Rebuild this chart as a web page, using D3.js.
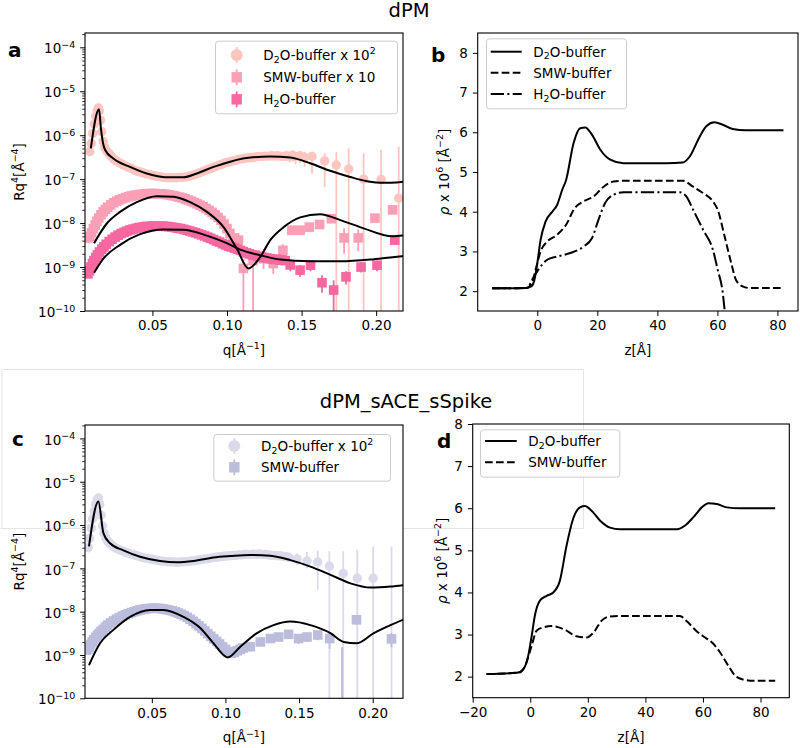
<!DOCTYPE html>
<html><head><meta charset="utf-8">
<script src="https://cdn.jsdelivr.net/npm/d3@7"></script>
<style>
body{margin:0;background:#fff}
svg{display:block}
text{font-family:"DejaVu Sans",sans-serif;fill:#000}
</style>
</head><body>
<svg id="chart" width="800" height="748"></svg>
<script>
// ---------------- DATA ----------------
// Panel a (dPM) reflectivity data: [q, R q^4] or [q, Rq^4, low, high]
const aD2O = [[0.0080,4.2e-7],[0.0090,6.5e-7],[0.0100,1.1e-6],[0.0110,1.8e-6],[0.0120,2.7e-6],[0.0130,3.6e-6],[0.0138,4.2e-6],[0.0145,3.6e-6],[0.0152,2.2e-6],[0.0160,1.2e-6],[0.0170,7.2e-7],[0.0180,5.2e-7],[0.0195,4.3e-7],[0.021,3.8e-7],[0.0225,3.3e-7],[0.024,2.9e-7],[0.026,2.6e-7],[0.028,2.35e-7],[0.030,2.15e-7],[0.032,2.0e-7],[0.034,1.85e-7],[0.036,1.75e-7],[0.038,1.6e-7],[0.040,1.5e-7],[0.042,1.45e-7],[0.044,1.38e-7],[0.046,1.32e-7],[0.048,1.28e-7],[0.050,1.22e-7],[0.052,1.18e-7],[0.054,1.15e-7],[0.056,1.12e-7],[0.058,1.1e-7],[0.060,1.08e-7],[0.062,1.08e-7],[0.064,1.07e-7],[0.066,1.08e-7],[0.068,1.1e-7],[0.070,1.1e-7],[0.072,1.12e-7],[0.074,1.15e-7],[0.076,1.2e-7],[0.078,1.26e-7],[0.080,1.33e-7],[0.082,1.42e-7],[0.084,1.5e-7],[0.086,1.6e-7],[0.088,1.7e-7],[0.090,1.8e-7],[0.092,1.92e-7],[0.094,2.05e-7],[0.096,2.15e-7],[0.098,2.3e-7],[0.100,2.4e-7],[0.102,2.5e-7],[0.104,2.6e-7],[0.106,2.7e-7],[0.108,2.85e-7],[0.110,2.9e-7],[0.112,3.0e-7],[0.114,3.05e-7],[0.116,3.1e-7],[0.118,3.15e-7],[0.120,3.25e-7],[0.122,3.3e-7],[0.124,3.3e-7],[0.126,3.35e-7],[0.128,3.35e-7],[0.130,3.4e-7,2.9e-7,3.9e-7],[0.132,3.35e-7,2.8e-7,3.9e-7],[0.134,3.4e-7,2.8e-7,4.0e-7],[0.136,3.35e-7,2.7e-7,4.0e-7],[0.138,3.3e-7,2.6e-7,4.0e-7],[0.140,3.4e-7,2.6e-7,4.1e-7],[0.142,3.3e-7,2.4e-7,4.1e-7],[0.144,3.5e-7,2.5e-7,4.3e-7],[0.146,3.25e-7,2.2e-7,4.2e-7],[0.149,3.4e-7,2.3e-7,4.4e-7],[0.152,3.1e-7,1.9e-7,4.2e-7],[0.157,3.3e-7,1.35e-7,4.2e-7],[0.1655,2.6e-7,6.6e-8,3.9e-7],[0.1733,2.1e-7,1e-12,4.2e-7],[0.1816,1.7e-7,1e-12,5.0e-7],[0.1916,1.0e-7,1e-12,3.9e-7],[0.2033,9.8e-8,1e-12,4.6e-7],[0.2151,3.7e-8,1e-12,5.5e-7]];
const aSMW = [[0.0068,4.6e-9],[0.0080,5.0e-9],[0.0092,6.0e-9],[0.0104,7.5e-9],[0.0116,9.0e-9],[0.0128,1.1e-8],[0.014,1.3e-8],[0.0155,1.55e-8],[0.017,1.8e-8],[0.0185,2.05e-8],[0.020,2.3e-8],[0.022,2.6e-8],[0.024,2.9e-8],[0.026,3.15e-8],[0.028,3.4e-8],[0.030,3.6e-8],[0.032,3.8e-8],[0.034,4.0e-8],[0.036,4.15e-8],[0.038,4.3e-8],[0.040,4.4e-8],[0.042,4.5e-8],[0.044,4.6e-8],[0.046,4.65e-8],[0.048,4.7e-8],[0.050,4.7e-8],[0.052,4.7e-8],[0.054,4.65e-8],[0.056,4.6e-8],[0.058,4.55e-8],[0.060,4.45e-8],[0.062,4.35e-8],[0.064,4.2e-8],[0.066,4.05e-8],[0.068,3.9e-8],[0.070,3.75e-8],[0.072,3.55e-8],[0.074,3.35e-8],[0.076,3.15e-8],[0.078,2.95e-8],[0.080,2.75e-8],[0.082,2.55e-8],[0.084,2.35e-8],[0.086,2.15e-8],[0.088,1.95e-8],[0.090,1.75e-8],[0.092,1.55e-8],[0.094,1.35e-8],[0.096,1.15e-8],[0.098,9.5e-9],[0.100,7.5e-9],[0.102,5.8e-9],[0.104,4.6e-9],[0.1063,3.6e-9],[0.1077,4.1e-9,2.8e-9,6.0e-9],[0.111,9.3e-10,1e-12,1.5e-9],[0.1175,1.4e-9,1e-12,2.2e-9],[0.1245,1.55e-9,9e-10,2.6e-9],[0.131,1.2e-9,7e-10,2.0e-9],[0.1375,2.4e-9,1.5e-9,3.3e-9],[0.1435,6.9e-9,5.5e-9,8.5e-9],[0.149,6.9e-9,5.5e-9,8.5e-9],[0.1552,8.1e-9,6.8e-9,9.6e-9],[0.1621,9.3e-9,8e-9,1.1e-8],[0.170,1.26e-8,1.05e-8,1.5e-8],[0.1785,4.6e-9,2.0e-9,7.6e-9],[0.188,4.6e-9,2.3e-9,7.2e-9],[0.1992,1.3e-8,1.1e-8,1.6e-8],[0.211,2.0e-8,1.7e-8,2.4e-8]];
const aH2O = [[0.0068,7.0e-10],[0.0078,8.2e-10],[0.0088,1.0e-9],[0.0098,1.2e-9],[0.0108,1.4e-9],[0.012,1.65e-9],[0.0132,1.9e-9],[0.0145,2.2e-9],[0.016,2.55e-9],[0.0175,2.9e-9],[0.019,3.3e-9],[0.021,3.8e-9],[0.023,4.3e-9],[0.025,4.8e-9],[0.027,5.3e-9],[0.029,5.8e-9],[0.031,6.2e-9],[0.033,6.6e-9],[0.035,7.0e-9],[0.037,7.3e-9],[0.039,7.6e-9],[0.041,7.9e-9],[0.043,8.1e-9],[0.045,8.3e-9],[0.047,8.4e-9],[0.049,8.5e-9],[0.051,8.6e-9],[0.053,8.6e-9],[0.055,8.6e-9],[0.057,8.5e-9],[0.059,8.4e-9],[0.061,8.3e-9],[0.063,8.1e-9],[0.065,7.9e-9],[0.067,7.7e-9],[0.069,7.5e-9],[0.071,7.2e-9],[0.073,6.9e-9],[0.075,6.6e-9],[0.077,6.3e-9],[0.079,6.0e-9],[0.081,5.7e-9],[0.083,5.4e-9],[0.085,5.1e-9],[0.087,4.8e-9],[0.089,4.5e-9],[0.091,4.2e-9],[0.093,3.9e-9],[0.095,3.7e-9],[0.097,3.4e-9],[0.099,3.2e-9],[0.101,3.0e-9],[0.103,2.85e-9],[0.105,2.7e-9],[0.107,2.55e-9],[0.109,2.4e-9],[0.111,2.25e-9],[0.113,2.1e-9],[0.115,2.0e-9],[0.117,1.9e-9],[0.119,1.85e-9],[0.121,1.75e-9],[0.123,1.7e-9],[0.125,1.65e-9],[0.127,1.6e-9],[0.129,1.55e-9],[0.131,1.5e-9],[0.133,1.5e-9],[0.135,1.45e-9],[0.137,1.45e-9],[0.139,1.4e-9],[0.1424,1.12e-9,8e-10,1.45e-9],[0.149,8.5e-10,6e-10,1.1e-9],[0.156,1.1e-9,8e-10,1.4e-9],[0.1637,4.4e-10,2.6e-10,6.5e-10],[0.1715,3.0e-10,1e-12,5e-10],[0.1798,6.0e-10,4e-10,8e-10],[0.1899,1.0e-9,7.5e-10,1.3e-9],[0.2006,1.1e-9,8e-10,1.4e-9],[0.2125,4.1e-9,3.2e-9,5e-9]];
// Panel a fits
const aFitD2O = [[0.0087,5.0e-7],[0.0142,3.9e-6],[0.0155,1.41e-6],[0.0170,6.3e-7],[0.0183,4.6e-7],[0.0238,2.95e-7],[0.035,1.9e-7],[0.0462,1.35e-7],[0.0619,1.1e-7],[0.0708,1.1e-7],[0.0798,1.35e-7],[0.091,1.9e-7],[0.1023,2.5e-7],[0.1066,2.75e-7],[0.1156,3.1e-7],[0.129,3.3e-7],[0.1424,3.1e-7],[0.1558,2.3e-7],[0.1692,1.55e-7],[0.1826,1.12e-7],[0.196,8.7e-8],[0.2028,8.3e-8],[0.210,8.3e-8],[0.218,8.7e-8]];
const aFitSMW = [[0.0109,3.5e-9],[0.0194,9.8e-9],[0.0283,1.8e-8],[0.0395,3.0e-8],[0.053,4.1e-8],[0.0641,4.0e-8],[0.0753,3.0e-8],[0.0865,1.8e-8],[0.0977,8.1e-9],[0.1066,2.6e-9],[0.1144,9.3e-10],[0.1223,1.7e-9],[0.129,4.1e-9],[0.138,8.1e-9],[0.1491,1.35e-8],[0.1625,1.6e-8],[0.176,1.17e-8],[0.1916,7.6e-9],[0.2107,5.0e-9],[0.218,5.2e-9]];
const aFitH2O = [[0.0109,7.4e-10],[0.0171,1.55e-9],[0.0283,3.2e-9],[0.0417,5.6e-9],[0.0574,7.2e-9],[0.0708,7.1e-9],[0.0865,5.2e-9],[0.0999,3.5e-9],[0.1089,2.5e-9],[0.1223,1.86e-9],[0.1357,1.48e-9],[0.1558,1.35e-9],[0.176,1.35e-9],[0.196,1.48e-9],[0.2095,1.66e-9],[0.218,1.78e-9]];

// Panel c (dPM_sACE_sSpike)
const cD2O = [[0.0068,3.0e-7],[0.0078,5.0e-7],[0.0088,8.5e-7],[0.0098,1.4e-6],[0.0108,2.1e-6],[0.0118,3.0e-6],[0.0128,3.8e-6],[0.0137,4.2e-6],[0.0146,3.0e-6],[0.0155,1.7e-6],[0.0165,9.5e-7],[0.0175,6.5e-7],[0.0188,5.0e-7],[0.020,4.3e-7],[0.0215,3.8e-7],[0.023,3.4e-7],[0.025,3.0e-7],[0.027,2.8e-7],[0.029,2.6e-7],[0.031,2.45e-7],[0.033,2.3e-7],[0.035,2.2e-7],[0.037,2.1e-7],[0.039,2.0e-7],[0.041,1.9e-7],[0.043,1.82e-7],[0.045,1.75e-7],[0.047,1.7e-7],[0.049,1.65e-7],[0.051,1.6e-7],[0.053,1.55e-7],[0.055,1.5e-7],[0.057,1.47e-7],[0.059,1.45e-7],[0.061,1.42e-7],[0.063,1.4e-7],[0.065,1.4e-7],[0.067,1.38e-7],[0.069,1.4e-7],[0.071,1.4e-7],[0.073,1.42e-7],[0.075,1.45e-7],[0.077,1.48e-7],[0.079,1.5e-7],[0.081,1.55e-7],[0.083,1.58e-7],[0.085,1.62e-7],[0.087,1.66e-7],[0.089,1.7e-7],[0.091,1.75e-7],[0.093,1.8e-7],[0.095,1.83e-7],[0.097,1.87e-7],[0.099,1.9e-7],[0.101,1.93e-7],[0.103,1.96e-7],[0.105,2.0e-7],[0.107,2.0e-7],[0.109,2.05e-7],[0.111,2.05e-7],[0.113,2.1e-7],[0.115,2.1e-7],[0.117,2.1e-7],[0.119,2.15e-7],[0.121,2.1e-7],[0.123,2.15e-7],[0.125,2.1e-7],[0.127,2.1e-7],[0.129,2.05e-7],[0.131,2.0e-7],[0.133,2.0e-7],[0.135,1.95e-7],[0.137,1.95e-7],[0.139,1.9e-7,1.6e-7,2.2e-7],[0.141,1.85e-7,1.55e-7,2.2e-7],[0.143,1.8e-7,1.45e-7,2.2e-7],[0.1486,1.65e-7,1.2e-7,2.2e-7],[0.1554,1.48e-7,1.0e-7,2.4e-7],[0.1627,1.4e-7,3.2e-8,2.6e-7],[0.1706,1.12e-7,1e-12,2.5e-7],[0.180,7.6e-8,1e-12,2.5e-7],[0.1895,5.9e-8,1e-12,2.7e-7],[0.2003,5.9e-8,1e-12,3.2e-7],[0.2128,4.0e-11,1e-12,3.2e-7]];
const cSMW = [[0.0055,1.3e-9],[0.0065,1.35e-9],[0.0075,1.5e-9],[0.0085,1.75e-9],[0.0095,2.0e-9],[0.0105,2.25e-9],[0.0118,2.55e-9],[0.013,2.85e-9],[0.0142,3.15e-9],[0.0155,3.5e-9],[0.017,3.9e-9],[0.0185,4.4e-9],[0.020,4.9e-9],[0.022,5.5e-9],[0.024,6.1e-9],[0.026,6.7e-9],[0.028,7.3e-9],[0.030,7.9e-9],[0.032,8.5e-9],[0.034,9.0e-9],[0.036,9.5e-9],[0.038,1.0e-8],[0.040,1.05e-8],[0.042,1.1e-8],[0.044,1.13e-8],[0.046,1.16e-8],[0.048,1.18e-8],[0.050,1.2e-8],[0.052,1.2e-8],[0.054,1.2e-8],[0.056,1.18e-8],[0.058,1.15e-8],[0.060,1.12e-8],[0.062,1.08e-8],[0.064,1.04e-8],[0.066,9.9e-9],[0.068,9.3e-9],[0.070,8.7e-9],[0.072,8.1e-9],[0.074,7.4e-9],[0.076,6.7e-9],[0.078,6.0e-9],[0.080,5.3e-9],[0.082,4.7e-9],[0.084,4.1e-9],[0.086,3.6e-9],[0.088,3.1e-9],[0.090,2.7e-9],[0.092,2.35e-9],[0.094,2.05e-9],[0.096,1.8e-9],[0.098,1.55e-9],[0.100,1.35e-9],[0.102,1.2e-9],[0.104,1.1e-9],[0.106,1.15e-9],[0.108,1.25e-9],[0.110,1.35e-9],[0.112,1.45e-9],[0.1169,1.55e-9,1.2e-9,1.9e-9],[0.1237,2.0e-9,1.6e-9,2.4e-9],[0.1305,2.4e-9,1.9e-9,2.9e-9],[0.1361,2.6e-9,2.1e-9,3.1e-9],[0.1429,3.0e-9,2.4e-9,3.6e-9],[0.1497,2.4e-9,1.8e-9,3.0e-9],[0.1554,2.6e-9,2.0e-9,3.2e-9],[0.1627,2.9e-9,2.2e-9,3.6e-9],[0.1708,2.4e-9,1.4e-9,3.4e-9],[0.1792,5e-11,1e-12,1.5e-9],[0.189,6.5e-9,5.0e-9,8.0e-9],[0.2128,2.35e-9,1.5e-9,3.2e-9]];
const cFitD2O = [[0.0073,3.2e-7],[0.0137,3.5e-6],[0.0171,6.5e-7],[0.0216,3.8e-7],[0.0307,2.6e-7],[0.042,1.86e-7],[0.0556,1.48e-7],[0.067,1.38e-7],[0.0783,1.48e-7],[0.0919,1.78e-7],[0.1033,1.92e-7],[0.1169,2.04e-7],[0.1305,1.95e-7],[0.1441,1.55e-7],[0.1577,1.1e-7],[0.1713,7.1e-8],[0.1849,4.5e-8],[0.1985,3.6e-8],[0.2121,3.8e-8],[0.221,4.1e-8]];
const cFitSMW = [[0.0073,5.8e-10],[0.0148,1.86e-9],[0.0239,3.8e-9],[0.0352,7.6e-9],[0.0488,1.1e-8],[0.0579,1.1e-8],[0.0715,7.6e-9],[0.0829,4.2e-9],[0.0919,1.86e-9],[0.1015,8.8e-10],[0.1101,1.55e-9],[0.1214,3.2e-9],[0.1327,4.9e-9],[0.1441,5.9e-9],[0.1577,4.9e-9],[0.1713,3.2e-9],[0.1803,2.0e-9],[0.189,1.86e-9],[0.2008,3.2e-9],[0.2121,4.9e-9],[0.221,6.6e-9]];

// Panel b SLD profiles: z (Å) and rho x 1e6
const bZ_D2O   = [-15,-4,-2,-1.1,0,1.1,2.75,5,6.6,8.3,9.6,12.1,14.3,16,18.2,21,24.3,28.7,43,48.5,50.8,54.1,56.3,59,61.8,65.1,69.5,82];
const bRho_D2O = [2.07,2.08,2.12,2.24,2.7,3.29,3.75,4.0,4.17,4.55,4.8,5.73,6.10,6.12,5.94,5.56,5.31,5.22,5.22,5.24,5.39,5.89,6.15,6.25,6.19,6.08,6.05,6.05];
const bZ_SMW   = [-15,-3.5,-1.65,-0.56,1.1,3.3,6.6,9.9,12.1,15.4,18.7,22.1,25.4,28.7,48.5,51.9,55.2,58.5,60.1,62.4,64.6,66.2,68.4,70.6,82];
const bRho_SMW = [2.07,2.08,2.24,2.54,3.0,3.25,3.42,3.71,4.05,4.26,4.38,4.63,4.76,4.78,4.78,4.63,4.47,4.26,4.05,3.38,2.71,2.28,2.12,2.08,2.08];
const bZ_H2O   = [-15,-3.5,-1.1,1.1,3.3,6.6,11,15.4,18.2,20.4,22.6,25.4,28.7,47.5,49.7,51.9,55.2,58.5,60.1,61.8,62.4,63.5];
const bRho_H2O = [2.07,2.08,2.37,2.62,2.79,2.87,2.96,3.12,3.33,3.8,4.22,4.43,4.49,4.49,4.38,4.05,3.55,3.04,2.54,1.95,1.53,0.9];

// Panel d SLD profiles
const dZ_D2O   = [-15.2,-4.7,-2.4,-0.7,0.5,1.6,3.4,5.7,8,10.3,12.6,14.9,17.3,19,21.3,24.2,27.7,31.2,50.9,53.8,56.7,59.6,61.9,64.8,68.3,72.9,85.1];
const dRho_D2O = [2.06,2.09,2.18,2.50,2.97,3.45,3.81,3.92,4.0,4.28,5.11,5.75,6.02,6.05,5.94,5.71,5.54,5.5,5.5,5.59,5.79,6.02,6.12,6.10,6.02,6.0,6.0];
const dZ_SMW   = [-15.2,-3.6,-1.3,0.5,2.2,4.5,7.4,11.5,16.1,19.6,21.9,24.8,27.7,31.2,52,54.3,57.8,60.1,63.6,65.9,68.8,71.2,74,77.5,85.1];
const dRho_SMW = [2.06,2.1,2.34,2.74,3.09,3.17,3.2,3.13,2.96,2.93,3.04,3.33,3.43,3.44,3.44,3.32,3.08,2.96,2.78,2.58,2.26,2.02,1.93,1.90,1.90];

// tick labels
const qTicks = [0.05,0.10,0.15,0.20];
const logTickExps = [-10,-9,-8,-7,-6,-5,-4];
const bXTicks = [0,20,40,60,80];
const dXTicks = [-20,0,20,40,60,80];
const rhoTicks = [2,3,4,5,6,7,8];

// ---------------- DRAWING ----------------
const svg = d3.select("#chart");
svg.append("rect").attr("width",800).attr("height",748).attr("fill","#fff");
const FS = 13.5;
const MINUS = "\u2212";

function rich(t, parts, fs) {
  t.text(null);
  let shift = 0;
  parts.forEach(p => {
    const ts = t.append("tspan").text(p.t);
    const target = p.sup ? -0.42*fs : (p.sub ? 0.2*fs : 0);
    const dy = target - shift;
    if (dy !== 0) ts.attr("dy", dy);
    if (p.sup || p.sub) ts.attr("font-size", fs*0.7);
    if (p.it) ts.attr("font-style","italic");
    shift = target;
  });
}

// faint frame from figure composition
const frame = svg.append("g").attr("stroke","#e4e4e4").attr("stroke-width",1).attr("fill","none");
frame.append("path").attr("d","M2,369.5H583.5V528.5H0.5");
frame.append("path").attr("d","M2,369.5V528.5");

// titles
svg.append("text").attr("x",409).attr("y",17).attr("text-anchor","middle").attr("font-size",19.5).text("dPM");
svg.append("text").attr("x",406).attr("y",408).attr("text-anchor","middle").attr("font-size",19.5).text("dPM_sACE_sSpike");

let clipId = 0;
function makePanel(box) {
  const g = svg.append("g");
  const id = "clip" + (clipId++);
  svg.append("defs").append("clipPath").attr("id", id)
    .append("rect").attr("x",box.x0).attr("y",box.y0).attr("width",box.x1-box.x0).attr("height",box.y1-box.y0);
  return {g, clip: "url(#" + id + ")"};
}

function legendBox(g, x0, y0, x1, y1) {
  g.append("rect").attr("x",x0+0.5).attr("y",y0+0.5).attr("width",x1-x0).attr("height",y1-y0)
    .attr("rx",3).attr("fill","#fff").attr("fill-opacity",0.8).attr("stroke","#cccccc").attr("stroke-width",1);
}

const D2Olabel = [{t:"D"},{t:"2",sub:true},{t:"O-buffer x 10"},{t:"2",sup:true}];
const H2Olabel = [{t:"H"},{t:"2",sub:true},{t:"O-buffer"}];
const D2Oplain = [{t:"D"},{t:"2",sub:true},{t:"O-buffer"}];

function reflPanel(cfg) {
  const box = cfg.box;
  const {g, clip} = makePanel(box);
  if (cfg.bg) g.append("rect").attr("x",box.x0).attr("y",box.y0).attr("width",box.x1-box.x0).attr("height",box.y1-box.y0).attr("fill","#fff");
  const x = d3.scaleLinear().domain(cfg.xd).range([box.x0, box.x1]);
  const y = d3.scaleLog().domain(cfg.yd).range([box.y1, box.y0]);
  const plot = g.append("g").attr("clip-path", clip);
  cfg.series.forEach(s => {
    const sg = plot.append("g");
    sg.selectAll("line.eb").data(s.data.filter(d => d.length === 4)).join("line")
      .attr("x1", d => x(d[0])).attr("x2", d => x(d[0]))
      .attr("y1", d => Math.min(y(d[2]), box.y1 + 20)).attr("y2", d => y(d[3]))
      .attr("stroke", s.color).attr("stroke-width", 1.8);
    if (s.shape === "circle") {
      sg.selectAll("circle").data(s.data).join("circle")
        .attr("cx", d => x(d[0])).attr("cy", d => Math.min(y(d[1]), box.y1 + 20)).attr("r", 4.7).attr("fill", s.color);
    } else {
      sg.selectAll("rect").data(s.data).join("rect")
        .attr("x", d => x(d[0]) - 4.8).attr("y", d => Math.min(y(d[1]), box.y1 + 20) - 4.8)
        .attr("width", 9.6).attr("height", 9.6).attr("fill", s.color);
    }
  });
  const line = d3.line().x(d => x(d[0])).y(d => y(d[1])).curve(d3.curveMonotoneX);
  cfg.fits.forEach(f => {
    plot.append("path").attr("d", line(f)).attr("fill","none").attr("stroke","#000").attr("stroke-width",2);
  });
  // axes
  const xa = g.append("g").attr("transform", `translate(0,${box.y1})`)
    .call(d3.axisBottom(x).tickValues(qTicks).tickFormat(d3.format(".2f")).tickSize(4.9).tickPadding(4.9));
  const majors = logTickExps.map(e => Math.pow(10, e));
  const minors = [];
  logTickExps.forEach(e => { for (let k = 2; k <= 9; k++) { const v = k * Math.pow(10, e); if (v <= cfg.yd[1]) minors.push(v); } });
  const ya = g.append("g").attr("transform", `translate(${box.x0},0)`)
    .call(d3.axisLeft(y).tickValues(majors).tickSize(4.9).tickPadding(4.9));
  const ym = g.append("g").attr("transform", `translate(${box.x0},0)`)
    .call(d3.axisLeft(y).tickValues(minors).tickSize(2.8).tickFormat(""));
  [xa, ya, ym].forEach(a => { a.select(".domain").remove(); a.selectAll("line").attr("stroke","#000").attr("stroke-width",1); a.selectAll("text").attr("font-family","DejaVu Sans").attr("font-size",FS).attr("fill","#000"); });
  ym.selectAll("line").attr("stroke-width",0.8);
  ya.selectAll("text").attr("dy","0.42em").each(function(d) {
    const e = Math.round(Math.log10(d));
    rich(d3.select(this), [{t:"10"},{t:MINUS + Math.abs(e), sup:true}], FS);
  });
  g.append("rect").attr("x",box.x0).attr("y",box.y0).attr("width",box.x1-box.x0).attr("height",box.y1-box.y0)
    .attr("fill","none").attr("stroke","#000").attr("stroke-width",1.1);
  // labels
  const xl = g.append("text").attr("x",(box.x0+box.x1)/2).attr("y",box.y1+44).attr("text-anchor","middle").attr("font-size",FS);
  rich(xl, [{t:"q[Å"},{t:MINUS+"1",sup:true},{t:"]"}], FS);
  const yc = (box.y0+box.y1)/2;
  const yl = g.append("text").attr("transform",`translate(24,${yc}) rotate(-90)`).attr("text-anchor","middle").attr("font-size",FS);
  rich(yl, [{t:"Rq"},{t:"4",sup:true},{t:"[Å"},{t:MINUS+"4",sup:true},{t:"]"}], FS);
  g.append("text").attr("x",cfg.labelPos[0]).attr("y",cfg.labelPos[1]).attr("font-size",20).attr("font-weight","bold").text(cfg.label);
  // legend
  const L = cfg.legend;
  legendBox(g, L.box[0], L.box[1], L.box[2], L.box[3]);
  cfg.series.forEach((s, i) => {
    const ry = L.rows[i];
    g.append("line").attr("x1",L.mx).attr("x2",L.mx).attr("y1",ry-8).attr("y2",ry+8).attr("stroke",s.color).attr("stroke-width",1.8);
    if (s.shape === "circle") g.append("circle").attr("cx",L.mx).attr("cy",ry).attr("r",6).attr("fill",s.color);
    else g.append("rect").attr("x",L.mx-5.2).attr("y",ry-5.2).attr("width",10.4).attr("height",10.4).attr("fill",s.color);
    const t = g.append("text").attr("x",L.tx).attr("y",ry+5).attr("font-size",FS);
    rich(t, s.label, FS);
  });
}

function sldPanel(cfg) {
  const box = cfg.box;
  const {g, clip} = makePanel(box);
  const x = d3.scaleLinear().domain(cfg.xd).range([box.x0, box.x1]);
  const y = d3.scaleLinear().domain(cfg.yd).range([box.y1, box.y0]);
  const plot = g.append("g").attr("clip-path", clip);
  const line = d3.line().x(d => x(d[0])).y(d => y(d[1])).curve(d3.curveMonotoneX);
  cfg.series.forEach(s => {
    const pts = s.z.map((z, i) => [z, s.rho[i]]);
    plot.append("path").attr("d", line(pts)).attr("fill","none").attr("stroke","#000").attr("stroke-width",2)
      .attr("stroke-dasharray", s.dash || null);
  });
  const xa = g.append("g").attr("transform", `translate(0,${box.y1})`)
    .call(d3.axisBottom(x).tickValues(cfg.xt).tickFormat(d => d < 0 ? MINUS + Math.abs(d) : String(d)).tickSize(4.9).tickPadding(4.9));
  const ya = g.append("g").attr("transform", `translate(${box.x0},0)`)
    .call(d3.axisLeft(y).tickValues(rhoTicks).tickFormat(d3.format("d")).tickSize(4.9).tickPadding(4.9));
  [xa, ya].forEach(a => { a.select(".domain").remove(); a.selectAll("line").attr("stroke","#000").attr("stroke-width",1); a.selectAll("text").attr("font-family","DejaVu Sans").attr("font-size",FS).attr("fill","#000"); });
  g.append("rect").attr("x",box.x0).attr("y",box.y0).attr("width",box.x1-box.x0).attr("height",box.y1-box.y0)
    .attr("fill","none").attr("stroke","#000").attr("stroke-width",1.1);
  g.append("text").attr("x",(box.x0+box.x1)/2).attr("y",box.y1+44).attr("text-anchor","middle").attr("font-size",FS).text("z[Å]");
  const yc = (box.y0+box.y1)/2;
  const yl = g.append("text").attr("transform",`translate(${cfg.ylx},${yc}) rotate(-90)`).attr("text-anchor","middle").attr("font-size",FS);
  rich(yl, [{t:"ρ",it:true},{t:" x 10"},{t:"6",sup:true},{t:" [Å"},{t:MINUS+"2",sup:true},{t:"]"}], FS);
  g.append("text").attr("x",cfg.labelPos[0]).attr("y",cfg.labelPos[1]).attr("font-size",20).attr("font-weight","bold").text(cfg.label);
  const L = cfg.legend;
  legendBox(g, L.box[0], L.box[1], L.box[2], L.box[3]);
  cfg.series.forEach((s, i) => {
    const ry = L.rows[i];
    g.append("line").attr("x1",L.lx[0]).attr("x2",L.lx[1]).attr("y1",ry).attr("y2",ry).attr("stroke","#000").attr("stroke-width",2)
      .attr("stroke-dasharray", s.dash || null);
    const t = g.append("text").attr("x",L.tx).attr("y",ry+5).attr("font-size",FS);
    rich(t, s.label, FS);
  });
}

const DASH = "7.7,3.3";
const DASHDOT = "13.3,3.3,2.1,3.3";

reflPanel({
  box:{x0:85,x1:403,y0:33,y1:311}, xd:[0.0048,0.218], yd:[1e-10, Math.pow(10,-3.674)],
  series:[
    {data:aD2O, color:"#fcc5c0", shape:"circle", label:D2Olabel},
    {data:aSMW, color:"#fa9fb5", shape:"square", label:[{t:"SMW-buffer x 10"}]},
    {data:aH2O, color:"#f768a1", shape:"square", label:H2Olabel}
  ],
  fits:[aFitD2O, aFitSMW, aFitH2O],
  label:"a", labelPos:[8,57],
  legend:{box:[215,40.7,397,113.3], rows:[55,77.3,99.3], mx:236.7, tx:263.3}
});

reflPanel({
  box:{x0:85,x1:403,y0:425,y1:698.3}, xd:[0.0046,0.2206], yd:[1e-10, Math.pow(10,-3.69)], bg:true,
  series:[
    {data:cD2O, color:"#dadaeb", shape:"circle", label:D2Olabel},
    {data:cSMW, color:"#bcbddc", shape:"square", label:[{t:"SMW-buffer"}]}
  ],
  fits:[cFitD2O, cFitSMW],
  label:"c", labelPos:[12,446],
  legend:{box:[213.3,434,390,480.7], rows:[446,467.3], mx:234.3, tx:261}
});

sldPanel({
  box:{x0:477.7,x1:798,y0:33,y1:311}, xd:[-19.85,86.85], yd:[1.5,8.5], xt:bXTicks, ylx:449,
  series:[
    {z:bZ_D2O, rho:bRho_D2O, label:D2Oplain},
    {z:bZ_SMW, rho:bRho_SMW, dash:DASH, label:[{t:"SMW-buffer"}]},
    {z:bZ_H2O, rho:bRho_H2O, dash:DASHDOT, label:H2Olabel}
  ],
  label:"b", labelPos:[431,61.5],
  legend:{box:[486,38.3,626,108.3], rows:[51.7,72.7,94], lx:[490.7,521.7], tx:533.3}
});

sldPanel({
  box:{x0:472.7,x1:789.3,y0:424,y1:697.7}, xd:[-20,90], yd:[1.5,8], xt:dXTicks, ylx:447,
  series:[
    {z:dZ_D2O, rho:dRho_D2O, label:D2Oplain},
    {z:dZ_SMW, rho:dRho_SMW, dash:DASH, label:[{t:"SMW-buffer"}]}
  ],
  label:"d", labelPos:[437,448],
  legend:{box:[480,429.3,619.3,476.7], rows:[441,462.3], lx:[485,516.7], tx:528.3}
});
</script>
</body></html>
